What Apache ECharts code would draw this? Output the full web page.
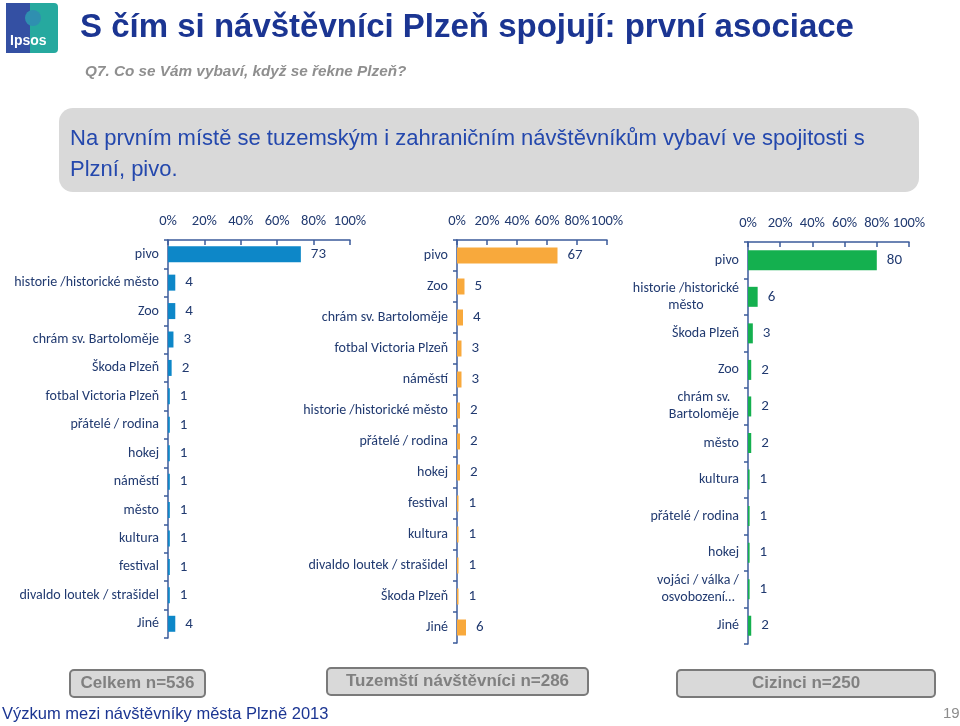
<!DOCTYPE html>
<html>
<head>
<meta charset="utf-8">
<script src="https://cdn.jsdelivr.net/npm/echarts@6/dist/echarts.min.js"></script>
<style>html,body{margin:0;padding:0;background:#fff}#c{width:960px;height:726px}</style>
</head>
<body>
<div id="c"></div>
<script>
// ---- data ----
const categoriesTotal = ['pivo','historie /historické město','Zoo','chrám sv. Bartoloměje','Škoda Plzeň','fotbal Victoria Plzeň','přátelé / rodina','hokej','náměstí','město','kultura','festival','divaldo loutek / strašidel','Jiné'];
const valuesTotal = [73,4,4,3,2,1,1,1,1,1,1,1,1,4];

const categoriesDomestic = ['pivo','Zoo','chrám sv. Bartoloměje','fotbal Victoria Plzeň','náměstí','historie /historické město','přátelé / rodina','hokej','festival','kultura','divaldo loutek / strašidel','Škoda Plzeň','Jiné'];
const valuesDomestic = [67,5,4,3,3,2,2,2,1,1,1,1,6];

const categoriesForeign = ['pivo','historie /historické\nměsto','Škoda Plzeň','Zoo','chrám sv.\nBartoloměje','město','kultura','přátelé / rodina','hokej','vojáci / válka /\nosvobození…','Jiné'];
const valuesForeign = [80,6,3,2,2,2,1,1,1,1,2];

const xTicks = [0,20,40,60,80,100];

const panelTitles = ['Celkem n=536','Tuzemští návštěvníci n=286','Cizinci n=250'];

// ---- styles ----
const NAVY = '#213a70';
const AXIS = '#3b5b9b';
const LABEL_FONT = "Carlito, Lato, 'Noto Sans', sans-serif";

const panels = [
  {cats: categoriesTotal, vals: valuesTotal, color: '#0d87c8', grid: {left:168, top:240, width:182, height:398}, bw:16},
  {cats: categoriesDomestic, vals: valuesDomestic, color: '#f8a93c', grid: {left:457, top:240, width:150, height:403}, bw:16},
  {cats: categoriesForeign, vals: valuesForeign, color: '#14b04f', grid: {left:748, top:242, width:161, height:402}, bw:20}
];

const grids = [], xAxes = [], yAxes = [], series = [];
panels.forEach((p, i) => {
  grids.push(Object.assign({containLabel:false}, p.grid));
  xAxes.push({
    type:'value', gridIndex:i, position:'top', min:xTicks[0], max:xTicks[xTicks.length-1], interval:20,
    axisLine:{show:true, lineStyle:{color:AXIS, width:1.5}},
    axisTick:{show:true, inside:true, length:5, lineStyle:{color:AXIS, width:1.5}},
    splitLine:{show:false},
    axisLabel:{formatter:'{value}%', color:NAVY, fontSize:14.5, fontFamily:LABEL_FONT, margin:11}
  });
  yAxes.push({
    type:'category', gridIndex:i, inverse:true, data:p.cats,
    axisLine:{show:true, lineStyle:{color:AXIS, width:1.5}},
    axisTick:{show:true, length:4, lineStyle:{color:AXIS, width:1.5}},
    axisLabel:{
      color:NAVY, fontSize:14, fontFamily:LABEL_FONT, margin:9, lineHeight:17,
      formatter: function(v){ return v.split('\n').map(s => '{c|' + s + '}').join('\n'); },
      rich:{c:{align:'center', color:NAVY, fontSize:14, fontFamily:LABEL_FONT, lineHeight:17}}
    }
  });
  series.push({
    type:'bar', xAxisIndex:i, yAxisIndex:i, data:p.vals, barWidth:p.bw,
    itemStyle:{color:p.color},
    label:{show:true, position:'right', distance:10, color:NAVY, fontSize:15, fontFamily:LABEL_FONT},
    silent:true, animation:false
  });
});

const boxes = [
  {x:70, y:670, w:135, h:27},
  {x:327, y:668, w:261, h:27},
  {x:677, y:670, w:258, h:27}
];
const graphic = [
  // logo
  {type:'rect', shape:{x:6, y:3, width:26, height:50}, style:{fill:'#3450a3'}},
  {type:'rect', shape:{x:30, y:3, width:28, height:50, r:[0,4,4,0]}, style:{fill:'#26a99f'}},
  {type:'circle', shape:{cx:33, cy:18, r:8}, style:{fill:'#2f8fb0'}},
  {type:'text', x:10, y:34, style:{text:'Ipsos', fill:'#ffffff', font:"bold 14px 'Liberation Sans', Arial, sans-serif"}},
  // title
  {type:'text', x:80, y:11, style:{text:'S čím si návštěvníci Plzeň spojují: první asociace', fill:'#1b3592', font:"bold 33px 'Liberation Sans', Arial, sans-serif"}},
  {type:'text', x:85, y:64, style:{text:'Q7. Co se Vám vybaví, když se řekne Plzeň?', fill:'#8f8f8f', font:"italic bold 15.3px 'Liberation Sans', Arial, sans-serif"}},
  // header box
  {type:'rect', shape:{x:59, y:108, width:860, height:84, r:14}, style:{fill:'#d9d9d9'}},
  {type:'text', x:70, y:123, style:{text:'Na prvním místě se tuzemským i zahraničním návštěvníkům vybaví ve spojitosti s\nPlzní, pivo.', fill:'#2448ad', font:"22px 'Liberation Sans', Arial, sans-serif", lineHeight:31}},
  // footer
  {type:'text', x:2, y:706, style:{text:'Výzkum mezi návštěvníky města Plzně 2013', fill:'#1b3592', font:"16.5px 'Liberation Sans Narrow', 'Liberation Sans', Arial, sans-serif"}},
  {type:'text', x:943, y:706, style:{text:'19', fill:'#8c8c8c', font:"15px 'Liberation Sans Narrow', 'Liberation Sans', Arial, sans-serif"}}
];
boxes.forEach((b, i) => {
  graphic.push({type:'rect', shape:{x:b.x, y:b.y, width:b.w, height:b.h, r:4}, style:{fill:'#d9d9d9', stroke:'#7a7a7a', lineWidth:2}});
  graphic.push({type:'text', x:b.x + b.w/2, y:b.y + b.h/2, style:{text:panelTitles[i], fill:'#808080', font:"bold 17px 'Liberation Sans', Arial, sans-serif", align:'center', verticalAlign:'middle'}});
});

const chart = echarts.init(document.getElementById('c'), null, {renderer:'canvas'});
chart.setOption({
  animation:false,
  backgroundColor:'#ffffff',
  grid:grids, xAxis:xAxes, yAxis:yAxes, series:series, graphic:graphic
});
</script>
</body>
</html>
